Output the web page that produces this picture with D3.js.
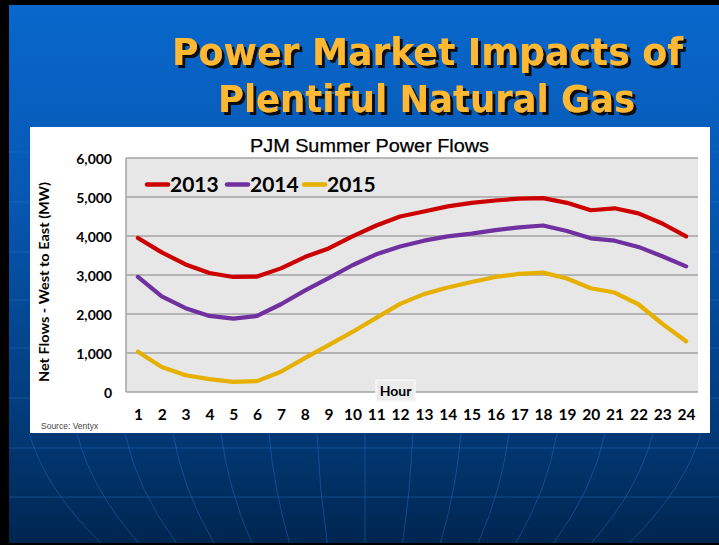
<!DOCTYPE html>
<html><head><meta charset="utf-8">
<script src="https://cdn.jsdelivr.net/npm/d3@7/dist/d3.min.js"></script>
<style>html,body{margin:0;padding:0;background:#000;overflow:hidden}</style>
</head><body>
<svg id="c" width="719" height="545"></svg>
<script>
// ---- data ----
const hours = [1,2,3,4,5,6,7,8,9,10,11,12,13,14,15,16,17,18,19,20,21,22,23,24];
const series2013 = [3950,3580,3270,3050,2950,2960,3170,3460,3680,3990,4270,4500,4630,4760,4850,4910,4960,4970,4850,4660,4710,4580,4320,3990];
const series2014 = [2950,2450,2150,1950,1880,1950,2250,2600,2920,3250,3530,3730,3880,3990,4060,4150,4220,4270,4130,3940,3880,3720,3480,3220];
const series2015 = [1030,640,430,330,260,280,520,870,1200,1540,1900,2260,2510,2680,2820,2950,3030,3060,2910,2660,2550,2250,1750,1300];
const seriesNames = ["2013","2014","2015"];
const seriesColors = ["#cc0000","#7030a0","#e6b000"];
const yTicks = [0,1000,2000,3000,4000,5000,6000];

const svg = d3.select("#c");
const W = 719, H = 545;

// ---- slide background ----
const defs = svg.append("defs");
const g1 = defs.append("linearGradient").attr("id","bg").attr("x1",0).attr("y1",0).attr("x2",0).attr("y2",1);
g1.append("stop").attr("offset","0%").attr("stop-color","#0868cc");
g1.append("stop").attr("offset","35%").attr("stop-color","#0758b4");
g1.append("stop").attr("offset","78%").attr("stop-color","#023a78");
g1.append("stop").attr("offset","100%").attr("stop-color","#00254f");
const sh = defs.append("filter").attr("id","shadow").attr("x","-5%").attr("y","-20%").attr("width","110%").attr("height","150%");
sh.append("feDropShadow").attr("dx",3).attr("dy",3).attr("stdDeviation",0.4)
  .attr("flood-color","#111").attr("flood-opacity",1);
svg.append("rect").attr("x",0).attr("y",0).attr("width",W).attr("height",H).attr("fill","url(#bg)");

// decorative background grid
const deco = svg.append("g").attr("fill","none").attr("stroke","#2f78d0").attr("stroke-opacity",0.4).attr("stroke-width",1);
[152,202,252,300,348,398,448,497].forEach(yy=>{
  deco.append("line").attr("x1",9).attr("x2",W).attr("y1",yy).attr("y2",yy);
});
d3.range(-7,8).forEach(i=>{
  const xt = 365 + i*48, xb = 365 + i*48*0.78;
  const xm = (xt+xb)/2 + i*3;
  deco.append("path").attr("d",`M${xt},433 Q${xm},489 ${xb},545`);
});

// black frame
svg.append("rect").attr("x",0).attr("y",0).attr("width",9).attr("height",H).attr("fill","#000");
svg.append("rect").attr("x",0).attr("y",0).attr("width",W).attr("height",5).attr("fill","#000");
svg.append("rect").attr("x",0).attr("y",H-2).attr("width",W).attr("height",2).attr("fill","#000");

// ---- slide title ----
const titleLines = [
  {t:"Power Market Impacts of", x:427.5, y:65, w:511},
  {t:"Plentiful Natural Gas", x:426.5, y:112, w:417}
];
titleLines.forEach(l=>{
  svg.append("text").attr("x",l.x).attr("y",l.y)
    .attr("text-anchor","middle")
    .attr("font-family","'DejaVu Sans Condensed','Liberation Sans Narrow','Arial Narrow',sans-serif")
    .attr("font-stretch","condensed")
    .attr("font-weight","bold").attr("font-size",37)
    .attr("textLength",l.w).attr("lengthAdjust","spacingAndGlyphs")
    .attr("filter","url(#shadow)")
    .attr("fill","#ffb833").text(l.t);
});

// ---- chart panel ----
svg.append("rect").attr("x",30).attr("y",127).attr("width",680).attr("height",306).attr("fill","#fff");

const x = d3.scalePoint().domain(hours).range([126,698]).padding(0.5);
const y = d3.scaleLinear().domain([0,6000]).range([392,158]);

svg.append("rect").attr("x",126).attr("y",158).attr("width",572).attr("height",234).attr("fill","#e7e7e7");

// gridlines
svg.append("g").selectAll("line").data(yTicks).join("line")
  .attr("x1",126).attr("x2",698).attr("y1",d=>y(d)).attr("y2",d=>y(d))
  .attr("stroke","#a3a3a3").attr("stroke-width",1.5);
svg.append("line").attr("x1",126).attr("x2",126).attr("y1",158).attr("y2",392)
  .attr("stroke","#a3a3a3").attr("stroke-width",1.5);

// y axis labels
const yAxis = d3.axisLeft(y).tickValues(yTicks).tickSize(0).tickPadding(0).tickFormat(d3.format(","));
const ya = svg.append("g").attr("transform","translate(112,0)").call(yAxis);
ya.select(".domain").remove();
ya.selectAll("text").attr("font-family","Lato, 'Open Sans', sans-serif").attr("font-weight","bold")
  .attr("font-size",14).attr("fill","#000").attr("dy","0.36em");

// x axis labels
const xAxis = d3.axisBottom(x).tickSize(0).tickPadding(0);
const xa = svg.append("g").attr("transform","translate(0,420)").call(xAxis);
xa.select(".domain").remove();
xa.selectAll("text").attr("font-family","Lato, 'Open Sans', sans-serif").attr("font-weight","bold")
  .attr("font-size",15.5).attr("fill","#000").attr("dy",0);

// Hour label
svg.append("rect").attr("x",376).attr("y",380).attr("width",39).attr("height",21)
  .attr("fill","#ececec").attr("stroke","#f8f8f8").attr("stroke-width",1.5);
svg.append("text").attr("x",395.5).attr("y",396).attr("text-anchor","middle")
  .attr("font-family","Lato, 'Open Sans', sans-serif").attr("font-weight","bold").attr("font-size",14)
  .attr("fill","#000").text("Hour");

// y axis title
svg.append("text").attr("transform","translate(49,282) rotate(-90)").attr("text-anchor","middle")
  .attr("font-family","Lato, 'Open Sans', sans-serif").attr("font-weight","bold").attr("font-size",13.5)
  .attr("textLength",200).attr("lengthAdjust","spacingAndGlyphs")
  .attr("fill","#000").text("Net Flows - West to East (MW)");

// chart title
svg.append("text").attr("x",369.5).attr("y",152).attr("text-anchor","middle")
  .attr("font-family","'Liberation Sans', Arial, sans-serif").attr("font-size",17.5)
  .attr("textLength",239).attr("lengthAdjust","spacingAndGlyphs")
  .attr("fill","#000").attr("stroke","#000").attr("stroke-width",0.25).text("PJM Summer Power Flows");

// lines
const allSeries = [series2013, series2014, series2015];
const line = d3.line().x((d,i)=>x(hours[i])).y(d=>y(d));
svg.append("g").selectAll("path").data(allSeries).join("path")
  .attr("d",d=>line(d)).attr("fill","none")
  .attr("stroke",(d,i)=>seriesColors[i]).attr("stroke-width",4.2)
  .attr("stroke-linejoin","round").attr("stroke-linecap","round");

// legend
const legX = [147,227,304];
const leg = svg.append("g");
seriesNames.forEach((n,i)=>{
  leg.append("line").attr("x1",legX[i]).attr("x2",legX[i]+21).attr("y1",184.5).attr("y2",184.5)
    .attr("stroke",seriesColors[i]).attr("stroke-width",4.5).attr("stroke-linecap","round");
  leg.append("text").attr("x",legX[i]+23).attr("y",191.5)
    .attr("font-family","Lato, 'Open Sans', sans-serif").attr("font-weight","bold").attr("font-size",21)
    .attr("fill","#000").text(n);
});

// source
svg.append("text").attr("x",41).attr("y",429)
  .attr("font-family","'Liberation Sans', Arial, sans-serif").attr("font-size",8.5)
  .attr("fill","#444").text("Source: Ventyx");
</script>
</body></html>
